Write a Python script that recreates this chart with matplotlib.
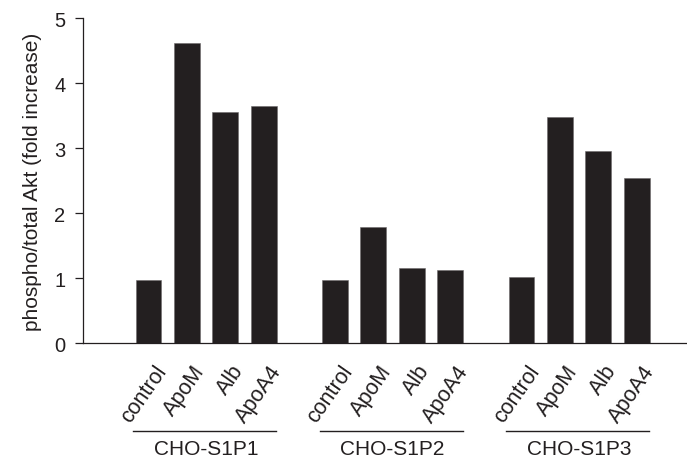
"""Akt phosphorylation fold increase, grouped bars per CHO-S1P receptor line."""

import matplotlib
matplotlib.use("Agg")
import matplotlib.pyplot as plt
import numpy as np

plt.rcParams["font.family"] = ["Liberation Sans", "DejaVu Sans"]

INK = "#231f20"

treatments = ["control", "ApoM", "Alb", "ApoA4"]
cell_lines = ["CHO-S1P1", "CHO-S1P2", "CHO-S1P3"]
s1p1 = [0.97, 4.61, 3.55, 3.64]
s1p2 = [0.97, 1.79, 1.15, 1.13]
s1p3 = [1.01, 3.47, 2.95, 2.54]
yticks = [0, 1, 2, 3, 4, 5]

GROUP_STEP = 4.855
BAR_W = 0.67

fig = plt.figure(figsize=(6.87, 4.64), dpi=100)
ax = fig.add_axes([0.1215, 0.2586, 0.8785, 0.7004])

for g, (name, vals) in enumerate(zip(cell_lines, [s1p1, s1p2, s1p3])):
    x = g * GROUP_STEP + np.arange(len(treatments))
    ax.bar(x, vals, width=BAR_W, color=INK, edgecolor="#6d6a6b", linewidth=0.4)
    for xi, lab in zip(x, treatments):
        ax.annotate(lab, xy=(xi, 0), xycoords=("data", "axes fraction"),
                    xytext=(10, -17), textcoords="offset points",
                    ha="right", va="center", rotation=55, rotation_mode="anchor",
                    fontsize=15.5, color=INK)
    # group underline + cell-line name
    ax.plot([x[0] - 0.4, x[-1] + 0.33], [-0.271, -0.271], color=INK, lw=1.0,
            transform=ax.get_xaxis_transform(), clip_on=False)
    ax.text((x[0] + x[-1]) / 2, -0.326, name, transform=ax.get_xaxis_transform(),
            ha="center", va="center", fontsize=15, color=INK)

ax.set_xlim(-1.69, 14.02)
ax.set_ylim(0, 5)
ax.set_yticks(yticks)
ax.set_xticks([])
ax.tick_params(axis="y", direction="out", length=6, width=0.9, pad=7,
               labelsize=14.5, colors=INK)
ax.set_ylabel("phospho/total Akt (fold increase)", fontsize=15, color=INK, labelpad=9)
for side in ("top", "right"):
    ax.spines[side].set_visible(False)
for side in ("left", "bottom"):
    ax.spines[side].set_color(INK)
    ax.spines[side].set_linewidth(0.9)

fig.savefig("out.png", dpi=100)
